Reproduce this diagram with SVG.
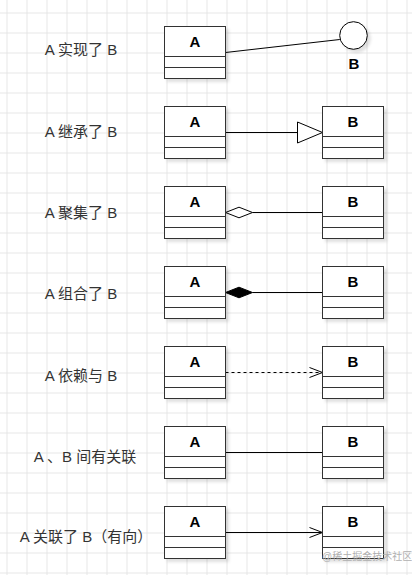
<svg xmlns="http://www.w3.org/2000/svg" width="412" height="575" viewBox="0 0 412 575">
<defs>
<pattern id="grid" x="6.5" y="12.5" width="20" height="20" patternUnits="userSpaceOnUse">
<path d="M0 0.5H20M0.5 0V20" fill="none" stroke="#e6e6e6" stroke-width="1"/>
</pattern>
<filter id="sh" x="-20%" y="-20%" width="150%" height="150%">
<feDropShadow dx="3" dy="3" stdDeviation="1.5" flood-color="#000" flood-opacity="0.12"/>
</filter>
<g id="cls">
<rect x="0" y="0" width="61" height="52" fill="#fff" stroke="#333" filter="url(#sh)"/>
<path d="M0 30H61M0 41H61" stroke="#333" fill="none"/>
</g>
</defs>
<style>
.lbl{font-family:"Liberation Sans","Noto Sans CJK SC",sans-serif;font-size:15px;fill:#333;text-anchor:middle}
.nm{font-family:"Liberation Sans",Arial,sans-serif;font-size:15px;font-weight:bold;fill:#000;text-anchor:middle}
.ln{stroke:#000;stroke-width:1;fill:none}
.wm{font-family:"Liberation Sans","Noto Sans CJK SC",sans-serif;font-size:10px;fill:#b0b0b0}
</style>
<rect width="412" height="575" fill="#fff"/>
<rect width="412" height="575" fill="url(#grid)"/>

<g id="labels">
<text class="lbl" x="81" y="54.5">A 实现了 B</text>
<text class="lbl" x="81" y="137">A 继承了 B</text>
<text class="lbl" x="81" y="218">A 聚集了 B</text>
<text class="lbl" x="81" y="299">A 组合了 B</text>
<text class="lbl" x="81" y="380.5">A 依赖与 B</text>
<text class="lbl" x="85" y="461.5">A 、B 间有关联</text>
<text class="lbl" x="86" y="542">A 关联了 B（有向）</text>
</g>

<g id="connectors">
<line class="ln" x1="225.5" y1="52.5" x2="339.8" y2="39.5"/>
<line class="ln" x1="225.5" y1="132.5" x2="297.5" y2="132.5"/>
<polygon points="297.5,122 322.5,132.5 297.5,143" fill="#fff" stroke="#000"/>
<line class="ln" x1="252.5" y1="212.5" x2="322.5" y2="212.5"/>
<polygon points="225.5,212.5 239,207.2 252.5,212.5 239,217.8" fill="#fff" stroke="#000"/>
<line class="ln" x1="252.5" y1="292.5" x2="322.5" y2="292.5"/>
<polygon points="225.5,292.5 239,287.2 252.5,292.5 239,297.8" fill="#000" stroke="#000"/>
<line class="ln" x1="225.5" y1="372.5" x2="321.5" y2="372.5" stroke-dasharray="3 3"/>
<polyline class="ln" points="309.5,367.5 322.5,372.5 309.5,377.5"/>
<line class="ln" x1="225.5" y1="452.5" x2="322.5" y2="452.5"/>
<line class="ln" x1="225.5" y1="532.5" x2="321.5" y2="532.5"/>
<polyline class="ln" points="309.5,527.5 322.5,532.5 309.5,537.5"/>
</g>

<g id="A1" transform="translate(164.5,26.5)"><use href="#cls"/><text class="nm" x="30.5" y="20">A</text></g>
<g id="B1"><circle cx="353.5" cy="35.5" r="13.8" fill="#fff" stroke="#000" filter="url(#sh)"/><text class="nm" x="354" y="69">B</text></g>

<g id="A2" transform="translate(164.5,106.5)"><use href="#cls"/><text class="nm" x="30.5" y="20">A</text></g>
<g id="B2" transform="translate(322.5,106.5)"><use href="#cls"/><text class="nm" x="30.5" y="20">B</text></g>

<g id="A3" transform="translate(164.5,186.5)"><use href="#cls"/><text class="nm" x="30.5" y="20">A</text></g>
<g id="B3" transform="translate(322.5,186.5)"><use href="#cls"/><text class="nm" x="30.5" y="20">B</text></g>

<g id="A4" transform="translate(164.5,266.5)"><use href="#cls"/><text class="nm" x="30.5" y="20">A</text></g>
<g id="B4" transform="translate(322.5,266.5)"><use href="#cls"/><text class="nm" x="30.5" y="20">B</text></g>

<g id="A5" transform="translate(164.5,346.5)"><use href="#cls"/><text class="nm" x="30.5" y="20">A</text></g>
<g id="B5" transform="translate(322.5,346.5)"><use href="#cls"/><text class="nm" x="30.5" y="20">B</text></g>

<g id="A6" transform="translate(164.5,426.5)"><use href="#cls"/><text class="nm" x="30.5" y="20">A</text></g>
<g id="B6" transform="translate(322.5,426.5)"><use href="#cls"/><text class="nm" x="30.5" y="20">B</text></g>

<g id="A7" transform="translate(164.5,506.5)"><use href="#cls"/><text class="nm" x="30.5" y="20">A</text></g>
<g id="B7" transform="translate(322.5,506.5)"><use href="#cls"/><text class="nm" x="30.5" y="20">B</text></g>

<text class="wm" x="322" y="560">@稀土掘金技术社区</text>
</svg>
